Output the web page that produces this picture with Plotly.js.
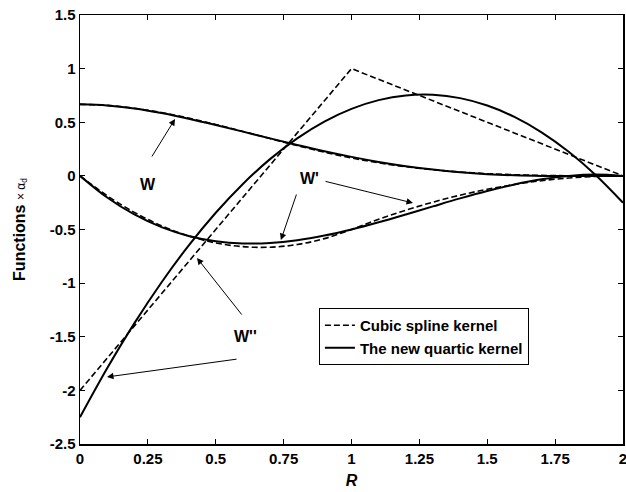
<!DOCTYPE html>
<html>
<head>
<meta charset="utf-8">
<script src="https://cdn.plot.ly/plotly-3.0.1.min.js"></script>
<style>
  html, body { margin: 0; padding: 0; background: #fff; }
  #chart { width: 626px; height: 492px; }
</style>
</head>
<body>
<div id="chart"></div>
<script>
// Normalised distance R
const R = [0, 0.1, 0.2, 0.3, 0.4, 0.5, 0.6, 0.7, 0.8, 0.9, 1.0,
           1.1, 1.2, 1.3, 1.4, 1.5, 1.6, 1.7, 1.8, 1.9, 2.0];

// Cubic spline kernel: W, W', W'' (scaled by alpha_d)
const cubicW = [0.6667, 0.6572, 0.6307, 0.5902, 0.5387, 0.4792, 0.4147, 0.3482, 0.2827, 0.2212, 0.1667,
                0.1215, 0.0853, 0.0572, 0.0360, 0.0208, 0.0107, 0.0045, 0.0013, 0.0002, 0];
const cubicDW = [0, -0.185, -0.34, -0.465, -0.56, -0.625, -0.66, -0.665, -0.64, -0.585, -0.5,
                 -0.405, -0.32, -0.245, -0.18, -0.125, -0.08, -0.045, -0.02, -0.005, 0];
const cubicDDW = [-2, -1.7, -1.4, -1.1, -0.8, -0.5, -0.2, 0.1, 0.4, 0.7, 1.0,
                  0.9, 0.8, 0.7, 0.6, 0.5, 0.4, 0.3, 0.2, 0.1, 0];

// New quartic kernel: W, W', W'' (scaled by alpha_d)
const quarticW = [0.6667, 0.6562, 0.6278, 0.5855, 0.5333, 0.4746, 0.4124, 0.3494, 0.2880, 0.2300, 0.1771,
                  0.1304, 0.0907, 0.0584, 0.0338, 0.0163, 0.0053, -0.0001, -0.0016, -0.0008, 0];
const quarticDW = [0, -0.2019, -0.36, -0.4781, -0.56, -0.6094, -0.63, -0.6256, -0.6, -0.5569, -0.5,
                   -0.4331, -0.36, -0.2844, -0.21, -0.1406, -0.08, -0.0319, 0, 0.0119, 0];
const quarticDDW = [-2.25, -1.7938, -1.375, -0.9938, -0.65, -0.3438, -0.075, 0.1563, 0.35, 0.5063, 0.625,
                    0.7063, 0.75, 0.7563, 0.725, 0.6563, 0.55, 0.4063, 0.225, 0.0063, -0.25];

// Legend entries
const seriesNames = ['Cubic spline kernel', 'The new quartic kernel'];

// Axis ticks
const xTickVals = [0, 0.25, 0.5, 0.75, 1, 1.25, 1.5, 1.75, 2];
const xTickText = ['0', '0.25', '0.5', '0.75', '1', '1.25', '1.5', '1.75', '2'];
const yTickVals = [1.5, 1, 0.5, 0, -0.5, -1, -1.5, -2, -2.5];
const yTickText = ['1.5', '1', '0.5', '0', '-0.5', '-1', '-1.5', '-2', '-2.5'];

const FONT = 'Liberation Sans, Arial, Helvetica, sans-serif';
const dashed = { color: '#000', width: 1.6, dash: '6px,3px' };
const solid = { color: '#000', width: 2 };

// Legend shows one entry per kernel; the other curves of each kernel are hidden from it
const traces = [
  { x: R, y: cubicW, mode: 'lines', line: Object.assign({ shape: 'spline' }, dashed),
    name: seriesNames[0], showlegend: true },
  { x: R, y: quarticW, mode: 'lines', line: Object.assign({ shape: 'spline' }, solid),
    name: seriesNames[1], showlegend: true },
  { x: R, y: cubicDW, mode: 'lines', line: Object.assign({ shape: 'spline' }, dashed),
    name: seriesNames[0], showlegend: false },
  { x: R, y: cubicDDW, mode: 'lines', line: Object.assign({ shape: 'linear' }, dashed),
    name: seriesNames[0], showlegend: false },
  { x: R, y: quarticDW, mode: 'lines', line: Object.assign({ shape: 'spline' }, solid),
    name: seriesNames[1], showlegend: false },
  { x: R, y: quarticDDW, mode: 'lines', line: Object.assign({ shape: 'spline' }, solid),
    name: seriesNames[1], showlegend: false }
];

// Labels with pointer arrows (tail at ax/ay, head at x/y, data units)
function pointer(tx, ty, hx, hy) {
  return { x: hx, y: hy, ax: tx, ay: ty, xref: 'x', yref: 'y', axref: 'x', ayref: 'y',
           text: '', showarrow: true, arrowhead: 2, arrowsize: 1.3, arrowwidth: 1,
           arrowcolor: '#000', standoff: 0, startstandoff: 0 };
}
function label(txt, x, y) {
  return { x: x, y: y, xref: 'x', yref: 'y', text: '<b>' + txt + '</b>', showarrow: false,
           font: { family: FONT, size: 16, color: '#000' } };
}

const annotations = [
  label('W', 0.2505, -0.085),
  pointer(0.2615, 0.167, 0.350, 0.530),
  label("W'", 0.847, -0.029),
  pointer(0.899, -0.048, 1.2265, -0.253),
  pointer(0.799, -0.160, 0.740, -0.598),
  label("W''", 0.611, -1.502),
  pointer(0.600, -1.307, 0.431, -0.766),
  pointer(0.582, -1.707, 0.0994, -1.875)
];

const axisCommon = {
  showgrid: false, zeroline: false, showline: true, linecolor: '#000', linewidth: 1.5,
  mirror: 'ticks', ticks: 'inside', ticklen: 5, tickwidth: 1, tickcolor: '#000',
  ticklabeloverflow: 'allow',
  tickfont: { family: FONT, size: 15, color: '#000', weight: 'bold' }
};

const layout = {
  width: 626, height: 492,
  margin: { l: 80, r: 3, t: 15, b: 48 },
  paper_bgcolor: '#fff', plot_bgcolor: '#fff',
  font: { family: FONT, color: '#000' },
  xaxis: Object.assign({}, axisCommon, {
    range: [0, 2], tickmode: 'array', tickvals: xTickVals, ticktext: xTickText,
    title: { text: '<b><i>R</i></b>', font: { family: FONT, size: 16, color: '#000' }, standoff: 9 }
  }),
  yaxis: Object.assign({}, axisCommon, {
    range: [-2.5, 1.5], tickmode: 'array', tickvals: yTickVals, ticktext: yTickText,
    title: { text: "<b>Functions</b> <span style='font-size:12px'>× α<sub>d</sub></span>",
             font: { family: FONT, size: 16, color: '#000' }, standoff: 20 }
  }),
  legend: {
    x: 0.440, y: 0.317, xanchor: 'left', yanchor: 'top',
    bgcolor: '#fff', bordercolor: '#000', borderwidth: 1,
    font: { family: FONT, size: 15, color: '#000', weight: 'bold' },
    tracegroupgap: 0, itemwidth: 30
  },
  annotations: annotations,
  showlegend: true
};

Plotly.newPlot('chart', traces, layout, { displayModeBar: false, staticPlot: true });
</script>
</body>
</html>
